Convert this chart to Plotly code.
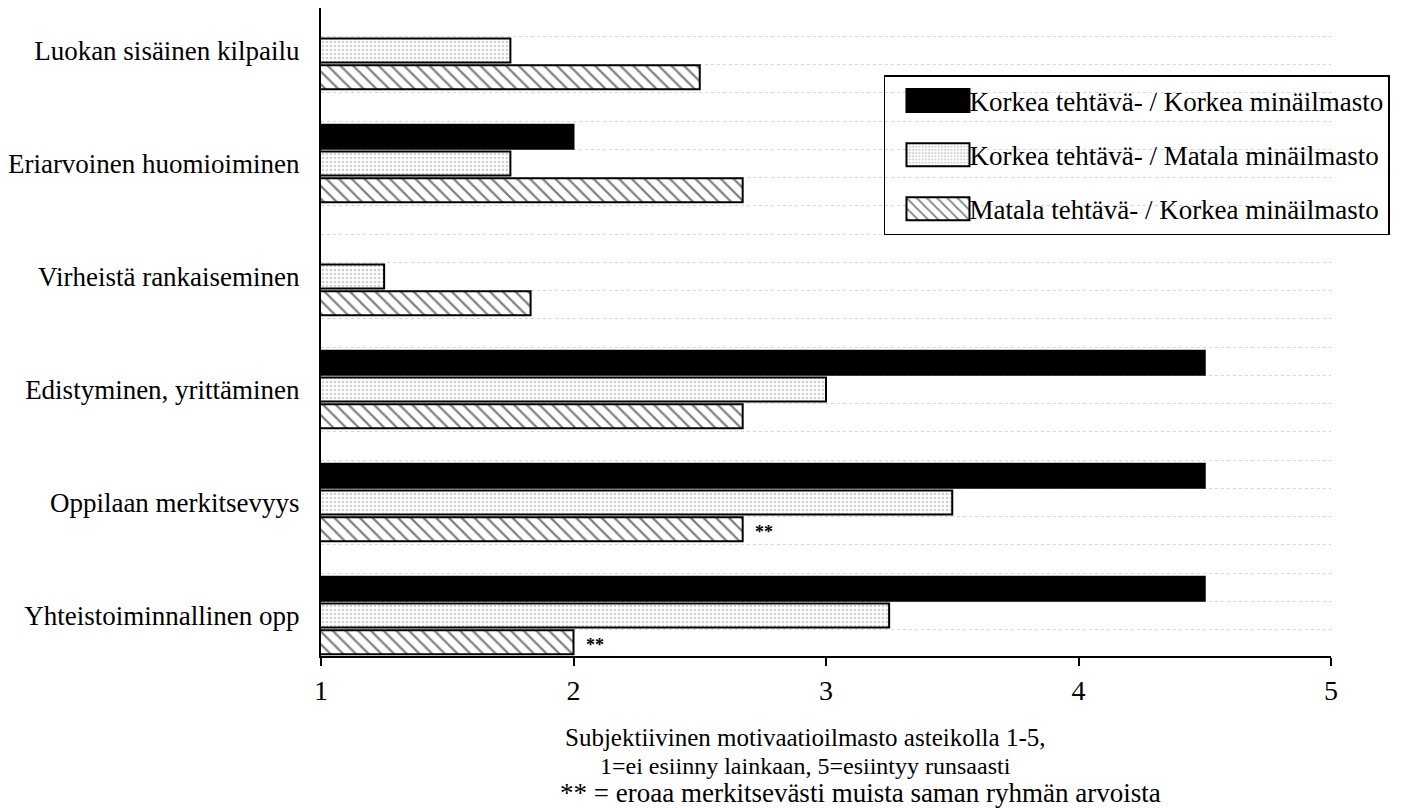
import plotly.graph_objects as go

# Motivational climate items, listed top to bottom
categories = [
    "Luokan sisäinen kilpailu",
    "Eriarvoinen huomioiminen",
    "Virheistä rankaiseminen",
    "Edistyminen, yrittäminen",
    "Oppilaan merkitsevyys",
    "Yhteistoiminnallinen opp",
]

series_names = [
    "Korkea tehtävä- / Korkea minäilmasto",
    "Korkea tehtävä- / Matala minäilmasto",
    "Matala tehtävä- / Korkea minäilmasto",
]

high_task_high_ego = [None, 2.0, None, 4.5, 4.5, 4.5]
high_task_low_ego = [1.75, 1.75, 1.25, 3.0, 3.5, 3.25]
low_task_high_ego = [2.5, 2.67, 1.83, 2.67, 2.67, 2.0]

# significance markers for the third group
significance = ["", "", "", "", "**", "**"]

x_ticks = [1, 2, 3, 4, 5]

FONT = "Liberation Serif, Times New Roman, serif"
positions = list(range(len(categories)))

BARGAP = 0.29
N_SERIES = 3

fig = go.Figure()

fig.add_trace(go.Bar(
    name=series_names[0], y=positions, x=high_task_high_ego, orientation="h",
    marker=dict(color="black", line=dict(color="black", width=2)),
    legendgroup="a",
))
fig.add_trace(go.Bar(
    name=series_names[1], y=positions, x=high_task_low_ego, orientation="h",
    marker=dict(
        color="white",
        line=dict(color="black", width=2),
        pattern=dict(shape=".", size=4, solidity=0.35, fgcolor="#a0a0a0", bgcolor="white"),
    ),
    legendgroup="b",
))
fig.add_trace(go.Bar(
    name=series_names[2], y=positions, x=low_task_high_ego, orientation="h",
    marker=dict(
        color="white",
        line=dict(color="black", width=2),
        pattern=dict(shape="\\", size=9, solidity=0.25, fgcolor="black", bgcolor="white"),
    ),
    legendgroup="c",
))

# "**" markers placed right after the corresponding hatched bars
third_offset = (1 - BARGAP) / N_SERIES
annotations = []
for i, (mark, val) in enumerate(zip(significance, low_task_high_ego)):
    if mark and val is not None:
        annotations.append(dict(
            x=val, y=i + third_offset, xref="x", yref="y",
            text="<b>" + mark + "</b>", showarrow=False, xanchor="left", yanchor="middle",
            xshift=10, yshift=-3, font=dict(family=FONT, size=18, color="black"),
        ))

# axis caption and footnote below the plot
annotations += [
    dict(text="Subjektiivinen motivaatioilmasto asteikolla 1-5,", x=0.479, y=-0.125,
         xref="paper", yref="paper", showarrow=False, xanchor="center", yanchor="middle",
         font=dict(family=FONT, size=25, color="black")),
    dict(text="1=ei esiinny lainkaan, 5=esiintyy runsaasti", x=0.480, y=-0.170,
         xref="paper", yref="paper", showarrow=False, xanchor="center", yanchor="middle",
         font=dict(family=FONT, size=24, color="black")),
    dict(text="** = eroaa merkitsevästi muista saman ryhmän arvoista", x=0.534, y=-0.212,
         xref="paper", yref="paper", showarrow=False, xanchor="center", yanchor="middle",
         font=dict(family=FONT, size=27, color="black")),
]

fig.update_layout(
    width=1406, height=808,
    margin=dict(l=321, r=75, t=8, b=152, pad=0),
    paper_bgcolor="white", plot_bgcolor="white",
    barmode="group", bargap=BARGAP, bargroupgap=0.1,
    font=dict(family=FONT, size=27, color="black"),
    showlegend=True,
    legend=dict(
        x=0.5574, y=0.8966, xanchor="left", yanchor="top",
        bgcolor="rgba(0,0,0,0)", bordercolor="black", borderwidth=1.5,
        font=dict(family=FONT, size=27, color="black"),
        itemwidth=74, traceorder="grouped", tracegroupgap=16,
    ),
    annotations=annotations,
)

fig.update_xaxes(
    range=[1, 5], tickvals=x_ticks, ticktext=[str(t) for t in x_ticks],
    showline=True, linecolor="black", linewidth=2,
    ticks="outside", ticklen=8, tickwidth=2, tickcolor="black",
    showgrid=False, zeroline=False,
    tickfont=dict(family=FONT, size=28, color="black"),
)
fig.update_yaxes(
    range=[5.358, -0.376], tickvals=positions, ticktext=categories,
    showline=True, linecolor="black", linewidth=2,
    ticks="", showgrid=False, zeroline=False, ticklabelstandoff=14,
    tickfont=dict(family=FONT, size=27, color="black"),
    minor=dict(showgrid=True, dtick=0.25, tick0=-0.376, gridcolor="#d6d6d6",
               griddash="dot", gridwidth=1),
)

# wider legend swatches
post = """
var gd = document.getElementsByClassName('plotly-graph-div')[0];
function widen() {
  var paths = gd.querySelectorAll('.legend .legendpoints path');
  paths.forEach(function(p) { p.setAttribute('d', 'M42,11.5H-21V-11.5H42Z'); });
}
widen();
gd.on('plotly_afterplot', widen);
"""

fig.write_html("out.html", post_script=post)
